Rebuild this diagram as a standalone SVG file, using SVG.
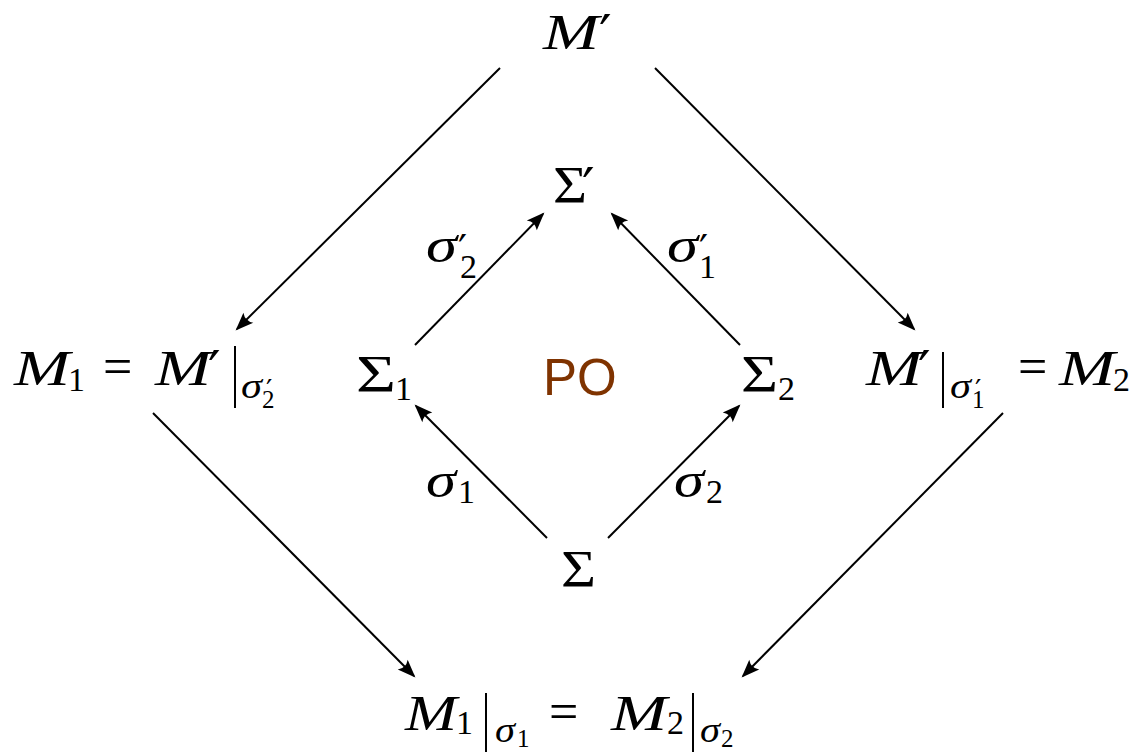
<svg xmlns="http://www.w3.org/2000/svg" width="1144" height="752" viewBox="0 0 1144 752">
<style>
.m{font-family:"Liberation Serif","DejaVu Serif",serif;font-style:italic;font-size:51px;fill:#000}
.u{font-family:"Liberation Serif","DejaVu Serif",serif;font-size:52px;fill:#000}
.s{font-family:"Liberation Serif","DejaVu Serif",serif;font-size:34px;fill:#000}
.si{font-family:"Liberation Serif","DejaVu Serif",serif;font-style:italic;font-size:50px;fill:#000}
.sj{font-family:"Liberation Serif","DejaVu Serif",serif;font-style:italic;font-size:36px;fill:#000}
.ss{font-family:"Liberation Serif","DejaVu Serif",serif;font-size:25px;fill:#000}
.p{font-family:"DejaVu Sans",sans-serif;font-size:56px;fill:#000}
.pt{font-family:"DejaVu Sans",sans-serif;font-size:40px;fill:#000}
.pu{font-family:"DejaVu Sans",sans-serif;font-size:28px;fill:#000}
.bar{stroke:#000;stroke-width:2}
.e{stroke:#000;stroke-width:2;fill:none;marker-end:url(#ah)}
.po{font-family:"Liberation Sans","DejaVu Sans",sans-serif;font-size:51px;fill:#7F3300}
</style>
<defs>
<marker id="ah" markerUnits="userSpaceOnUse" markerWidth="24" markerHeight="20" viewBox="-20 -10 24 20" refX="0" refY="0" orient="auto">
<path d="M2,0 L-16,-7 Q-11,0 -16,7 Z" fill="#000"/>
</marker>
</defs>
<g id="connectors">
<line class="e" x1="500" y1="68" x2="237" y2="329"/>
<line class="e" x1="655" y1="68" x2="914" y2="329"/>
<line class="e" x1="415" y1="345" x2="543" y2="214"/>
<line class="e" x1="740" y1="345" x2="612" y2="214"/>
<line class="e" x1="547" y1="538" x2="416" y2="406"/>
<line class="e" x1="608" y1="538" x2="739" y2="406"/>
<line class="e" x1="153" y1="413" x2="414" y2="676"/>
<line class="e" x1="1003" y1="413" x2="743" y2="676"/>
</g>
<g id="node-Mprime">
<text class="m" x="543" y="49" textLength="56" lengthAdjust="spacingAndGlyphs">M</text>
<text class="p" x="599" y="54">′</text>
</g>
<g id="node-SigmaPrime">
<text class="u" x="553" y="203" textLength="34" lengthAdjust="spacingAndGlyphs">Σ</text>
<text class="p" x="582" y="207">′</text>
</g>
<g id="label-sigma2p">
<text class="si" x="426" y="262" textLength="31" lengthAdjust="spacingAndGlyphs">σ</text>
<text class="pt" x="458" y="264">′</text>
<text class="s" x="460" y="278">2</text>
</g>
<g id="label-sigma1p">
<text class="si" x="667" y="262" textLength="31" lengthAdjust="spacingAndGlyphs">σ</text>
<text class="pt" x="699" y="264">′</text>
<text class="s" x="699" y="278">1</text>
</g>
<g id="node-Sigma1">
<text class="u" x="356" y="392" textLength="40" lengthAdjust="spacingAndGlyphs">Σ</text>
<text class="s" x="395" y="400">1</text>
</g>
<g id="node-PO">
<text class="po" x="543" y="395">PO</text>
</g>
<g id="node-Sigma2">
<text class="u" x="741" y="392" textLength="37" lengthAdjust="spacingAndGlyphs">Σ</text>
<text class="s" x="778" y="400">2</text>
</g>
<g id="label-sigma1">
<text class="si" x="426" y="497" textLength="30" lengthAdjust="spacingAndGlyphs">σ</text>
<text class="s" x="458" y="503">1</text>
</g>
<g id="label-sigma2">
<text class="si" x="674" y="497" textLength="30" lengthAdjust="spacingAndGlyphs">σ</text>
<text class="s" x="706" y="503">2</text>
</g>
<g id="node-Sigma">
<text class="u" x="561" y="587" textLength="35" lengthAdjust="spacingAndGlyphs">Σ</text>
</g>
<g id="node-M1">
<text class="m" x="14" y="385" textLength="56" lengthAdjust="spacingAndGlyphs">M</text>
<text class="s" x="68" y="391">1</text>
<text class="u" x="103" y="384">=</text>
<text class="m" x="155" y="385" textLength="56" lengthAdjust="spacingAndGlyphs">M</text>
<text class="p" x="208" y="390">′</text>
<line class="bar" x1="235" y1="346" x2="235" y2="408"/>
<text class="sj" x="241" y="398" textLength="21" lengthAdjust="spacingAndGlyphs">σ</text>
<text class="pu" x="266" y="400">′</text>
<text class="ss" x="262" y="408">2</text>
</g>
<g id="node-M2">
<text class="m" x="866" y="385" textLength="56" lengthAdjust="spacingAndGlyphs">M</text>
<text class="p" x="918" y="390">′</text>
<line class="bar" x1="943" y1="352" x2="943" y2="408"/>
<text class="sj" x="950" y="398" textLength="21" lengthAdjust="spacingAndGlyphs">σ</text>
<text class="pu" x="975" y="400">′</text>
<text class="ss" x="972" y="408">1</text>
<text class="u" x="1018" y="384">=</text>
<text class="m" x="1059" y="385" textLength="56" lengthAdjust="spacingAndGlyphs">M</text>
<text class="s" x="1113" y="391">2</text>
</g>
<g id="node-bottom">
<text class="m" x="405" y="730" textLength="52" lengthAdjust="spacingAndGlyphs">M</text>
<text class="s" x="456" y="734">1</text>
<line class="bar" x1="486" y1="693" x2="486" y2="752"/>
<text class="sj" x="495" y="742" textLength="20" lengthAdjust="spacingAndGlyphs">σ</text>
<text class="ss" x="517" y="747">1</text>
<text class="u" x="549" y="729">=</text>
<text class="m" x="611" y="730" textLength="56" lengthAdjust="spacingAndGlyphs">M</text>
<text class="s" x="667" y="734">2</text>
<line class="bar" x1="693" y1="693" x2="693" y2="752"/>
<text class="sj" x="700" y="742" textLength="20" lengthAdjust="spacingAndGlyphs">σ</text>
<text class="ss" x="721" y="747">2</text>
</g>
</svg>
